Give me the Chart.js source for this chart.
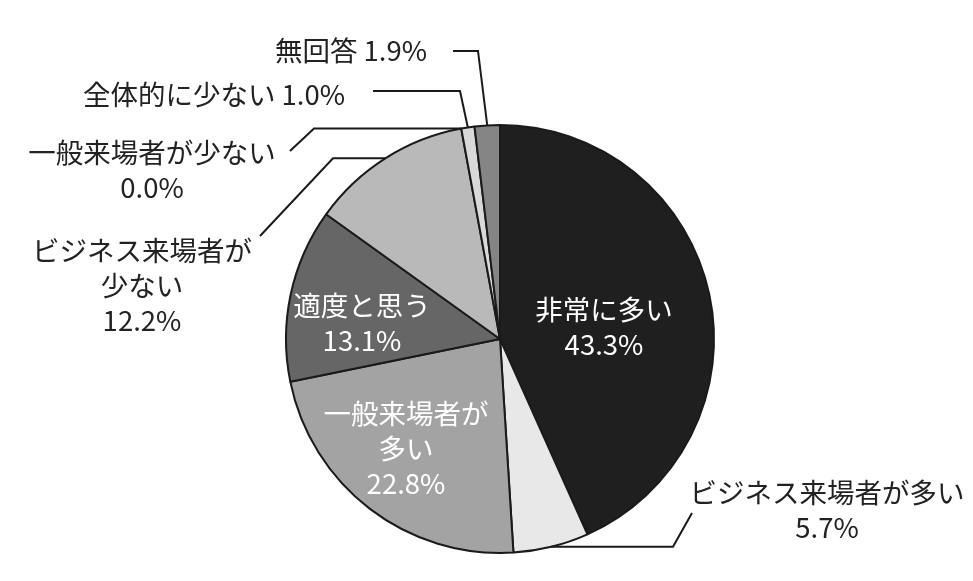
<!DOCTYPE html>
<html lang="ja">
<head>
<meta charset="utf-8">
<title>来場者数の評価</title>
<script src="https://cdn.jsdelivr.net/npm/chart.js@4.4.1/dist/chart.umd.min.js"></script>
<style>
  html, body { margin: 0; padding: 0; background: #fff; }
  #wrap { width: 973px; height: 581px; }
</style>
</head>
<body>
<div id="wrap"><canvas id="pie" width="973" height="581"></canvas></div>
<script>
// ─── Data ───────────────────────────────────────────────────
const categories = ['非常に多い', 'ビジネス来場者が多い', '一般来場者が多い', '適度と思う',
                    'ビジネス来場者が少ない', '一般来場者が少ない', '全体的に少ない', '無回答'];
const values = [43.3, 5.7, 22.8, 13.1, 12.2, 0.0, 1.0, 1.9];
// how each category name wraps in its label
const nameLines = [
    ['非常に多い'], ['ビジネス来場者が多い'], ['一般来場者が', '多い'], ['適度と思う'],
    ['ビジネス来場者が', '少ない'], ['一般来場者が少ない'], ['全体的に少ない'], ['無回答']
];
const colors = ['#1f1f1f', '#e8e8e8', '#a3a3a3', '#666666', '#b9b9b9', '#cfcfcf', '#d9d9d9', '#858585'];

// ─── Label layout ───────────────────────────────────────────
// inline: percent on same line as name; inside: white text in slice
// leader: elbow / end points of the leader line (start = slice mid on rim)
const labelLayout = [
    { x: 604, y: 310, inside: true },
    { x: 827, y: 493, leader: { elbow: [673, null], end: [692, 513] } },
    { x: 406, y: 414, inside: true },
    { x: 362, y: 306, inside: true },
    { x: 142, y: 251, leader: { elbow: [333, null], end: [260, 236] } },
    { x: 152, y: 153, leader: { elbow: [314, null], end: [290, 151] } },
    { x: 214, y: 95, inline: true, leader: { elbow: [460, 91], end: [373, 91] } },
    { x: 351, y: 51, inline: true, leader: { elbow: [478, 51], end: [453, 51] } }
];

const FONT = '"Noto Sans CJK JP", "Noto Sans", sans-serif';
const LINE_H = 35;

const pieLabels = {
    id: 'pieLabels',
    afterDraw(chart) {
        const ctx = chart.ctx;
        const arcs = chart.getDatasetMeta(0).data;
        ctx.save();
        // leader lines
        ctx.strokeStyle = '#1a1a1a';
        ctx.lineWidth = 2;
        ctx.lineJoin = 'miter';
        arcs.forEach(function (arc, i) {
            const lay = labelLayout[i];
            if (!lay.leader) return;
            const p = arc.getProps(['x', 'y', 'startAngle', 'endAngle', 'outerRadius'], true);
            const mid = (p.startAngle + p.endAngle) / 2;
            const sx = p.x + Math.cos(mid) * p.outerRadius;
            const sy = p.y + Math.sin(mid) * p.outerRadius;
            const ex = lay.leader.elbow[0];
            const ey = lay.leader.elbow[1] === null ? sy : lay.leader.elbow[1];
            ctx.beginPath();
            ctx.moveTo(sx, sy);
            ctx.lineTo(ex, ey);
            ctx.lineTo(lay.leader.end[0], lay.leader.end[1]);
            ctx.stroke();
        });
        // texts
        ctx.font = '27.5px ' + FONT;
        ctx.textAlign = 'center';
        ctx.textBaseline = 'middle';
        categories.forEach(function (name, i) {
            const lay = labelLayout[i];
            const pct = values[i].toFixed(1) + '%';
            let lines = nameLines[i].slice();
            if (lay.inline) lines[lines.length - 1] += ' ' + pct;
            else lines.push(pct);
            ctx.fillStyle = lay.inside ? '#ffffff' : '#222222';
            lines.forEach(function (t, k) {
                ctx.fillText(t, lay.x, lay.y + k * LINE_H);
            });
        });
        ctx.restore();
    }
};

new Chart(document.getElementById('pie'), {
    type: 'pie',
    data: {
        labels: categories,
        datasets: [{
            data: values,
            backgroundColor: colors,
            borderColor: '#1a1a1a',
            borderWidth: 2,
            hoverOffset: 0,
        }],
    },
    options: {
        responsive: false,
        animation: false,
        radius: 214,
        layout: { padding: { left: 286, right: 259, top: 125, bottom: 28 } },
        plugins: { legend: { display: false }, tooltip: { enabled: false } },
        events: [],
    },
    plugins: [pieLabels],
});
</script>
</body>
</html>
